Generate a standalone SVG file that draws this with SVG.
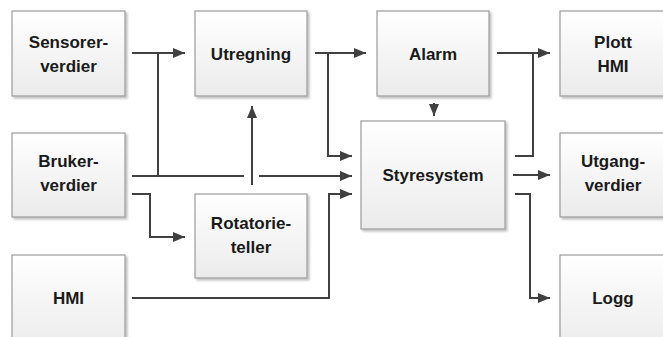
<svg xmlns="http://www.w3.org/2000/svg" width="663" height="337" viewBox="0 0 663 337">
<defs>
<linearGradient id="g" x1="0" y1="0" x2="0" y2="1">
<stop offset="0" stop-color="#ffffff"/>
<stop offset="1" stop-color="#ebebeb"/>
</linearGradient>
<filter id="sh" x="-10%" y="-10%" width="130%" height="130%">
<feGaussianBlur in="SourceAlpha" stdDeviation="1.2"/>
<feOffset dx="1.5" dy="1.5"/>
<feComponentTransfer><feFuncA type="linear" slope="0.25"/></feComponentTransfer>
<feMerge><feMergeNode/><feMergeNode in="SourceGraphic"/></feMerge>
</filter>
<marker id="a" markerWidth="12" markerHeight="10" viewBox="0 0 12 10" refX="12" refY="5" orient="auto" markerUnits="userSpaceOnUse">
<path d="M0,0 L12,5 L0,10 Z" fill="#404040"/>
</marker>
</defs>
<style>
.box{fill:url(#g);stroke:#9a9a9a;stroke-width:1.2;filter:url(#sh)}
.t{font-family:"Liberation Sans",Arial,sans-serif;font-weight:bold;font-size:17px;fill:#1a1a1a;text-anchor:middle}
.c{fill:none;stroke:#404040;stroke-width:2}
</style>
<g id="sensorer"><rect class="box" x="12" y="11" width="113" height="85"/><text class="t" x="68.5" y="48">Sensorer-</text><text class="t" x="68.5" y="72">verdier</text></g>
<g id="utregning"><rect class="box" x="195" y="11" width="112" height="85"/><text class="t" x="251" y="60">Utregning</text></g>
<g id="alarm"><rect class="box" x="377" y="11" width="112" height="85"/><text class="t" x="433" y="60">Alarm</text></g>
<g id="plott"><rect class="box" x="560" y="11" width="112" height="85"/><text class="t" x="613" y="48">Plott</text><text class="t" x="613" y="72">HMI</text></g>
<g id="bruker"><rect class="box" x="12" y="133" width="113" height="84"/><text class="t" x="68.5" y="167">Bruker-</text><text class="t" x="68.5" y="191">verdier</text></g>
<g id="styresystem"><rect class="box" x="361" y="121" width="144" height="108"/><text class="t" x="433" y="181">Styresystem</text></g>
<g id="utgang"><rect class="box" x="560" y="133" width="112" height="84"/><text class="t" x="613" y="167">Utgang-</text><text class="t" x="613" y="191">verdier</text></g>
<g id="rotatorie"><rect class="box" x="195" y="194" width="112" height="84"/><text class="t" x="251" y="229">Rotatorie-</text><text class="t" x="251" y="253">teller</text></g>
<g id="hmi"><rect class="box" x="12" y="255" width="113" height="95"/><text class="t" x="68.5" y="304">HMI</text></g>
<g id="logg"><rect class="box" x="560" y="255" width="112" height="95"/><text class="t" x="613" y="304">Logg</text></g>
<g id="connectors">
<path class="c" d="M132,53 H185" marker-end="url(#a)"/>
<path class="c" d="M158,53 V176"/>
<path class="c" d="M132,176 H244"/>
<path class="c" d="M259,176 H352" marker-end="url(#a)"/>
<path class="c" d="M252,185 V106" marker-end="url(#a)"/>
<path class="c" d="M132,194 H150 V237 H185" marker-end="url(#a)"/>
<path class="c" d="M132,298 H329 V194 H352" marker-end="url(#a)"/>
<path class="c" d="M315,53 H366" marker-end="url(#a)"/>
<path class="c" d="M328,53 V156 H352" marker-end="url(#a)"/>
<path class="c" d="M434,103 V116" marker-end="url(#a)"/>
<path class="c" d="M497,53 H550" marker-end="url(#a)"/>
<path class="c" d="M515,156 H533 V53"/>
<path class="c" d="M513,175 H550" marker-end="url(#a)"/>
<path class="c" d="M515,194 H530 V298 H550" marker-end="url(#a)"/>
</g>
</svg>
